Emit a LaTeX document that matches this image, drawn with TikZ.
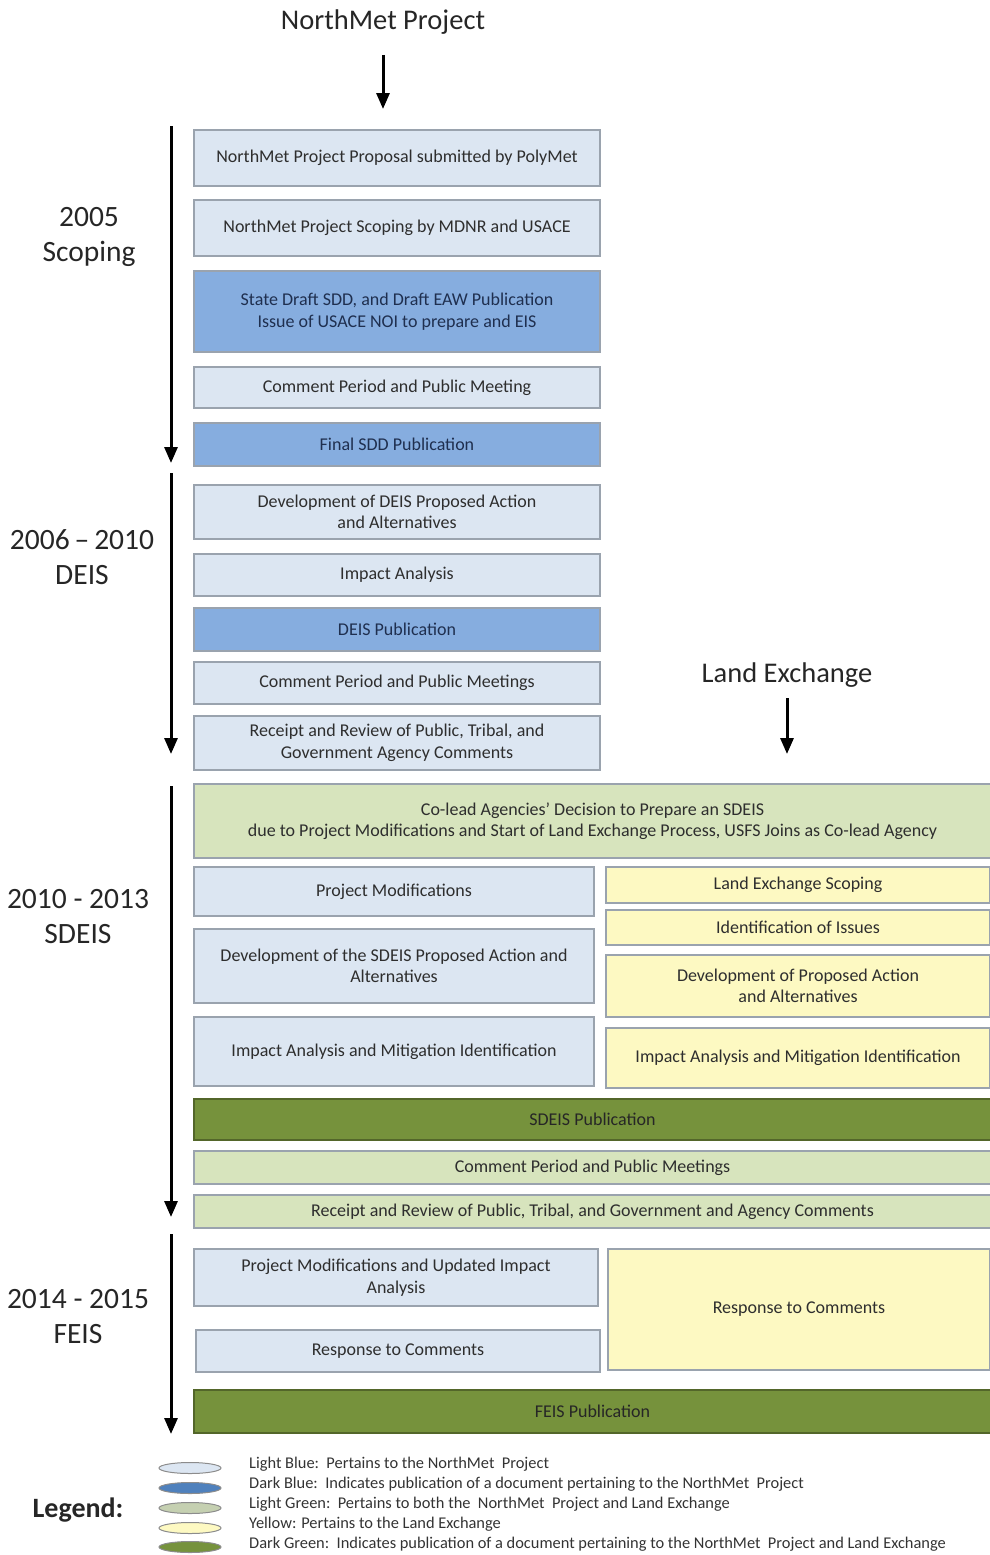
\documentclass[tikz,border=0pt]{standalone}
\usepackage{fontspec}
\setmainfont{Carlito}
\usetikzlibrary{arrows.meta,shapes.geometric}
\definecolor{lblue}{HTML}{DCE6F2}
\definecolor{dblue}{HTML}{86ADDF}
\definecolor{lgreen}{HTML}{D7E4BD}
\definecolor{yel}{HTML}{FDF9C2}
\definecolor{dgreen}{HTML}{76923C}
\definecolor{bord}{HTML}{9AA3AE}
\definecolor{navy}{HTML}{1F2F4F}
\definecolor{legblue}{HTML}{4F81BD}
\tikzset{
  bx/.style={draw=bord, line width=1.6pt, inner sep=2pt, align=center, font=\fontsize{18}{21.5}\selectfont, text=black!82},
  lb/.style={bx, fill=lblue},
  db/.style={bx, fill=dblue, text=navy},
  lg/.style={bx, fill=lgreen},
  ye/.style={bx, fill=yel},
  dg/.style={bx, fill=dgreen, draw=dgreen!70!black, text=black!85},
  tl/.style={line width=3pt, -{Triangle[length=16pt,width=13pt]}},
  phase/.style={font=\fontsize{29.5}{35}\selectfont, align=center, text=black!85},
  head/.style={font=\fontsize{28.5}{32}\selectfont, text=black!85},
  leg/.style={draw=black!45, line width=1pt, ellipse, minimum width=62pt, minimum height=11pt, inner sep=0pt},
  legt/.style={anchor=west, font=\fontsize{16.4}{18}\selectfont, text=black!80, inner sep=0pt}
}
\begin{document}
\begin{tikzpicture}[x=1pt,y=-1pt]
\useasboundingbox (0,0) rectangle (990,1555);
% headers
\node[head] (nm) at (383,22) {NorthMet Project};
\coordinate (nma) at (383,55);
\coordinate (nmb) at (383,109);
\draw[tl] (nma) -- (nmb);
\node[head] (le) at (787,675) {Land Exchange};
\coordinate (lea) at (787,698);
\coordinate (leb) at (787,754);
\draw[tl] (lea) -- (leb);
% timeline
\coordinate (t1a) at (171,126); \coordinate (t1b) at (171,463);
\coordinate (t2a) at (171,473); \coordinate (t2b) at (171,754);
\coordinate (t3a) at (171,786); \coordinate (t3b) at (171,1217);
\coordinate (t4a) at (171,1234); \coordinate (t4b) at (171,1434);
\draw[tl] (t1a) -- (t1b);
\draw[tl] (t2a) -- (t2b);
\draw[tl] (t3a) -- (t3b);
\draw[tl] (t4a) -- (t4b);
\node[phase] (p1) at (89,237) {2005\\Scoping};
\node[phase] (p2) at (82,557) {2006\,--\,2010\\DEIS};
\node[phase] (p3) at (78,917) {2010 - 2013\\SDEIS};
\node[phase] (p4) at (78,1317) {2014 - 2015\\FEIS};
% left column
\node[lb, minimum width=406pt, minimum height=56pt] (b1) at (397,158) {NorthMet Project Proposal submitted by PolyMet};
\node[lb, minimum width=406pt, minimum height=56pt] (b2) at (397,228) {NorthMet Project Scoping by MDNR and USACE};
\node[db, minimum width=406pt, minimum height=81pt] (b3) at (397,311.5) {State Draft SDD, and Draft EAW Publication\\Issue of USACE NOI to prepare and EIS};
\node[lb, minimum width=406pt, minimum height=41pt] (b4) at (397,387.5) {Comment Period and Public Meeting};
\node[db, minimum width=406pt, minimum height=43pt] (b5) at (397,444.5) {Final SDD Publication};
\node[lb, minimum width=406pt, minimum height=54pt] (b6) at (397,512) {Development of DEIS Proposed Action\\and Alternatives};
\node[lb, minimum width=406pt, minimum height=42pt] (b7) at (397,575) {Impact Analysis};
\node[db, minimum width=406pt, minimum height=43pt] (b8) at (397,629.5) {DEIS Publication};
\node[lb, minimum width=406pt, minimum height=42pt] (b9) at (397,683) {Comment Period and Public Meetings};
\node[lb, minimum width=406pt, minimum height=54pt] (b10) at (397,743) {Receipt and Review of Public, Tribal, and\\Government Agency Comments};
% SDEIS
\node[lg, minimum width=797pt, minimum height=74pt] (c1) at (592.5,821) {Co-lead Agencies' Decision to Prepare an SDEIS\\due to Project Modifications and Start of Land Exchange Process, USFS Joins as Co-lead Agency};
\node[lb, minimum width=400pt, minimum height=49pt] (c2) at (394,891.5) {Project Modifications};
\node[ye, minimum width=384pt, minimum height=36pt] (y1) at (798,885) {Land Exchange Scoping};
\node[ye, minimum width=384pt, minimum height=35pt] (y2) at (798,927.5) {Identification of Issues};
\node[lb, minimum width=400pt, minimum height=74pt] (c3) at (394,966) {Development of the SDEIS Proposed Action and\\Alternatives};
\node[ye, minimum width=384pt, minimum height=62pt] (y3) at (798,986) {Development of Proposed Action\\and Alternatives};
\node[lb, minimum width=400pt, minimum height=69pt] (c4) at (394,1051.5) {Impact Analysis and Mitigation Identification};
\node[ye, minimum width=384pt, minimum height=60pt] (y4) at (798,1058) {Impact Analysis and Mitigation Identification};
\node[dg, minimum width=797pt, minimum height=41pt] (c5) at (592.5,1119.5) {SDEIS Publication};
\node[lg, minimum width=797pt, minimum height=33pt] (c6) at (592.5,1167.5) {Comment Period and Public Meetings};
\node[lg, minimum width=797pt, minimum height=33pt] (c7) at (592.5,1211.5) {Receipt and Review of Public, Tribal, and Government and Agency Comments};
% FEIS
\node[lb, minimum width=404pt, minimum height=57pt] (d1) at (396,1277.5) {Project Modifications and Updated Impact\\Analysis};
\node[lb, minimum width=404pt, minimum height=42pt] (d2) at (398,1351) {Response to Comments};
\node[ye, minimum width=382pt, minimum height=121pt] (y5) at (799,1309.5) {Response to Comments};
\node[dg, minimum width=797pt, minimum height=43pt] (d3) at (592.5,1411.5) {FEIS Publication};
% legend
\node[font=\bfseries\fontsize{28}{32}\selectfont, text=black!85] (lg) at (78,1510) {Legend:};
\node[leg, fill=lblue] (e1) at (190,1468) {};
\node[leg, fill=legblue] (e2) at (190,1488) {};
\node[leg, fill=lgreen!80!gray] (e3) at (190,1508) {};
\node[leg, fill=yel] (e4) at (190,1528) {};
\node[leg, fill=dgreen] (e5) at (190,1547) {};
\node[legt] (l1) at (249,1464) {Light Blue:\ \ Pertains to the NorthMet\ \ Project};
\node[legt] (l2) at (249,1484) {Dark Blue:\ \ Indicates publication of a document pertaining to the NorthMet\ \ Project};
\node[legt] (l3) at (249,1504) {Light Green:\ \ Pertains to both the\ \ NorthMet\ \ Project and Land Exchange};
\node[legt] (l4) at (249,1524) {Yellow: Pertains to the Land Exchange};
\node[legt] (l5) at (249,1544) {Dark Green:\ \ Indicates publication of a document pertaining to the NorthMet\ \ Project and Land Exchange};
\end{tikzpicture}
\end{document}
